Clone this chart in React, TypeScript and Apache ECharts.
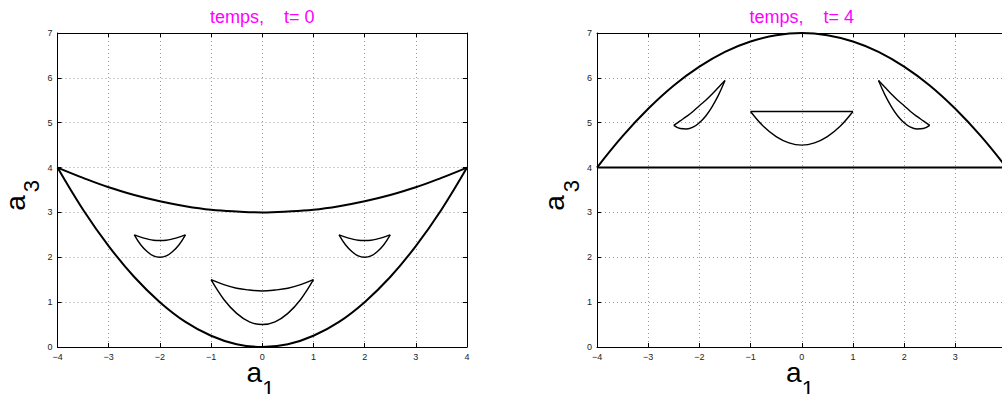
import React, { useEffect, useRef } from "react";
import * as echarts from "echarts";

// a1 sample positions
const A1_FULL = [-4, -3.5, -3, -2.5, -2, -1.5, -1, -0.5, 0, 0.5, 1, 1.5, 2, 2.5, 3, 3.5, 4];
const A1_MID = [-1, -0.75, -0.5, -0.25, 0, 0.25, 0.5, 0.75, 1];
const A1_LEFT = [-2.5, -2.375, -2.25, -2.125, -2, -1.875, -1.75, -1.625, -1.5];
const A1_RIGHT = [1.5, 1.625, 1.75, 1.875, 2, 2.125, 2.25, 2.375, 2.5];
const A1_EDGES = [-4, 4];
const A1_MID_EDGES = [-1, 1];

// t = 0
const upperT0 = [4, 3.77, 3.56, 3.39, 3.25, 3.14, 3.06, 3.02, 3, 3.02, 3.06, 3.14, 3.25, 3.39, 3.56, 3.77, 4];
const lowerT0 = [4, 3.06, 2.25, 1.56, 1, 0.56, 0.25, 0.06, 0, 0.06, 0.25, 0.56, 1, 1.56, 2.25, 3.06, 4];
const midTopT0 = [1.5, 1.39, 1.31, 1.27, 1.25, 1.27, 1.31, 1.39, 1.5];
const midBotT0 = [1.5, 1.06, 0.75, 0.56, 0.5, 0.56, 0.75, 1.06, 1.5];
const sideTopT0 = [2.5, 2.45, 2.41, 2.38, 2.375, 2.38, 2.41, 2.45, 2.5];
const sideBotT0 = [2.5, 2.28, 2.13, 2.03, 2, 2.03, 2.13, 2.28, 2.5];

// t = 4
const upperT4 = [4, 4.7, 5.31, 5.83, 6.25, 6.58, 6.81, 6.95, 7, 6.95, 6.81, 6.58, 6.25, 5.83, 5.31, 4.7, 4];
const lowerT4 = [4, 4];
const midTopT4 = [5.25, 5.25];
const midBotT4 = [5.25, 4.92, 4.69, 4.55, 4.5, 4.55, 4.69, 4.92, 5.25];
const leftTopT4 = [4.94, 5.04, 5.14, 5.25, 5.38, 5.5, 5.64, 5.79, 5.94];
const leftBotT4 = [4.94, 4.87, 4.86, 4.9, 5.0, 5.15, 5.36, 5.62, 5.94];
const rightTopT4 = [5.94, 5.79, 5.64, 5.5, 5.38, 5.25, 5.14, 5.04, 4.94];
const rightBotT4 = [5.94, 5.62, 5.36, 5.15, 5.0, 4.9, 4.86, 4.87, 4.94];

const X_TICKS = { min: -4, max: 4, interval: 1 };
const Y_TICKS = { min: 0, max: 7, interval: 1 };
const TIMES = [0, 4];

const FONT = "'Liberation Sans', Arial, Helvetica, sans-serif";

const pairs = (xs: number[], ys: number[]) => xs.map((x, i) => [x, ys[i]]);

const VIEW_W = 1002;
const VIEW_H = 394;
// the second panel runs a little past the right edge of the view
const CANVAS_W = 1016;
const PANEL_LEFT = [57.5, 597];
const PANEL_TOP = 33;
const PANEL_W = 409.5;
const PANEL_H = 314;

export default function App() {
  const ref = useRef<HTMLDivElement>(null);

  useEffect(() => {
    if (!ref.current) return;
    const chart = echarts.init(ref.current, undefined, { renderer: "svg" });

    const grids = PANEL_LEFT.map((left) => ({
      left,
      top: PANEL_TOP,
      width: PANEL_W,
      height: PANEL_H,
      containLabel: false,
    }));

    const tick = { show: true, inside: true, length: 4, lineStyle: { color: "#000", width: 1 } };
    const line = { show: true, onZero: false, lineStyle: { color: "#000", width: 1 } };
    const grid = { show: true, lineStyle: { color: "#9a9a9a", width: 1, type: [1, 3] } };
    const label = { fontSize: 9, color: "#222", fontFamily: FONT };

    const xAxis: any[] = [];
    const yAxis: any[] = [];
    [0, 1].forEach((g) => {
      xAxis.push({
        type: "value",
        gridIndex: g,
        position: "bottom",
        ...X_TICKS,
        axisLine: line,
        axisTick: tick,
        splitLine: grid,
        axisLabel: {
          ...label,
          margin: 5,
          // the last label of the second panel falls outside the view
          showMaxLabel: g === 0,
          formatter: (v: number) => String(v).replace("-", "\u2212"),
        },
      });
      xAxis.push({
        type: "value",
        gridIndex: g,
        position: "top",
        ...X_TICKS,
        axisLine: line,
        axisTick: tick,
        splitLine: { show: false },
        axisLabel: { show: false },
      });
      yAxis.push({
        type: "value",
        gridIndex: g,
        position: "left",
        ...Y_TICKS,
        axisLine: line,
        axisTick: tick,
        splitLine: grid,
        axisLabel: { ...label, margin: 5 },
      });
      yAxis.push({
        type: "value",
        gridIndex: g,
        position: "right",
        ...Y_TICKS,
        axisLine: line,
        axisTick: tick,
        splitLine: { show: false },
        axisLabel: { show: false },
      });
    });

    const curve = (g: number, xs: number[], ys: number[], width: number) => ({
      type: "line",
      xAxisIndex: g * 2,
      yAxisIndex: g * 2,
      data: pairs(xs, ys),
      showSymbol: false,
      symbol: "none",
      smooth: xs.length > 2 ? 0.4 : false,
      lineStyle: { color: "#000", width },
      silent: true,
    });

    const series = [
      curve(0, A1_FULL, upperT0, 2),
      curve(0, A1_FULL, lowerT0, 2),
      curve(0, A1_MID, midTopT0, 1.4),
      curve(0, A1_MID, midBotT0, 1.4),
      curve(0, A1_LEFT, sideTopT0, 1.4),
      curve(0, A1_LEFT, sideBotT0, 1.4),
      curve(0, A1_RIGHT, sideTopT0, 1.4),
      curve(0, A1_RIGHT, sideBotT0, 1.4),
      curve(1, A1_FULL, upperT4, 2),
      curve(1, A1_EDGES, lowerT4, 2),
      curve(1, A1_MID_EDGES, midTopT4, 1.4),
      curve(1, A1_MID, midBotT4, 1.4),
      curve(1, A1_LEFT, leftTopT4, 1.4),
      curve(1, A1_LEFT, leftBotT4, 1.4),
      curve(1, A1_RIGHT, rightTopT4, 1.4),
      curve(1, A1_RIGHT, rightBotT4, 1.4),
    ];

    // titles and axis names for each panel
    const graphic: any[] = [];
    TIMES.forEach((t, g) => {
      const left = PANEL_LEFT[g];
      const cx = left + PANEL_W / 2;
      graphic.push({
        type: "text",
        x: cx,
        y: 17,
        style: {
          text: "temps,    t= " + t,
          fill: "#ff00ff",
          fontSize: 18,
          fontFamily: FONT,
          align: "center",
          verticalAlign: "middle",
        },
      });
      graphic.push({
        type: "text",
        x: cx - 8,
        y: 372,
        style: { text: "a", fill: "#000", fontSize: 28, fontFamily: FONT, align: "center", verticalAlign: "middle" },
      });
      graphic.push({
        type: "text",
        x: cx + 6,
        y: 388,
        style: { text: "1", fill: "#000", fontSize: 22, fontFamily: FONT, align: "center", verticalAlign: "middle" },
      });
      graphic.push({
        type: "text",
        x: left - 42.5,
        y: 203,
        rotation: Math.PI / 2,
        style: { text: "a", fill: "#000", fontSize: 28, fontFamily: FONT, align: "center", verticalAlign: "middle" },
      });
      graphic.push({
        type: "text",
        x: left - 26,
        y: 186,
        rotation: Math.PI / 2,
        style: { text: "3", fill: "#000", fontSize: 22, fontFamily: FONT, align: "center", verticalAlign: "middle" },
      });
    });

    chart.setOption({
      animation: false,
      backgroundColor: "#fff",
      grid: grids,
      xAxis,
      yAxis,
      series,
      graphic,
    });

    return () => chart.dispose();
  }, []);

  return (
    <div
      style={{
        position: "fixed",
        left: 0,
        top: 0,
        width: VIEW_W,
        height: VIEW_H,
        overflow: "hidden",
        background: "#fff",
      }}
    >
      <div ref={ref} style={{ width: CANVAS_W, height: VIEW_H }} />
    </div>
  );
}
